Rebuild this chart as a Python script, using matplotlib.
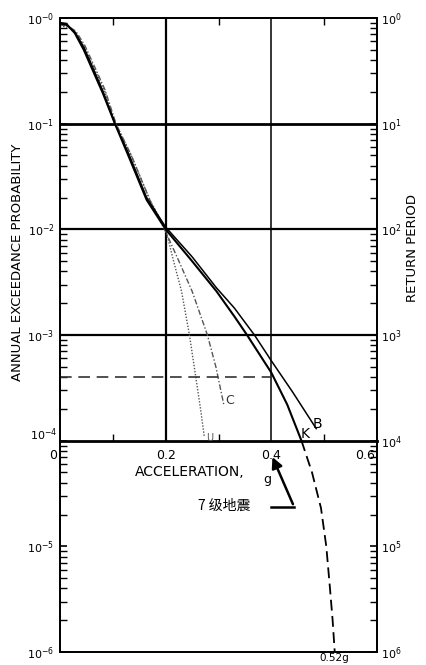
import numpy as np
import matplotlib
matplotlib.use("Agg")
import matplotlib.pyplot as plt
from matplotlib.ticker import FixedLocator, NullFormatter

plt.rcParams['font.family'] = ['DejaVu Sans', 'Noto Sans CJK SC']

# curve K (solid) and its dashed extension
k_g = [0, 0.012, 0.028, 0.045, 0.062, 0.081, 0.104, 0.13, 0.164, 0.2, 0.25, 0.296, 0.33, 0.354, 0.4, 0.43, 0.457]
k_p = [0.9, 0.88, 0.72, 0.5, 0.32, 0.195, 0.1, 0.049, 0.019, 0.01, 0.005, 0.0026, 0.0015, 0.001, 0.00044, 0.00022, 0.0001]
k_ext_g = [0.457, 0.477, 0.494, 0.504, 0.511, 0.516, 0.52]
k_ext_p = [1e-4, 5e-5, 2.3e-5, 1e-5, 4e-6, 2e-6, 1e-6]

# curve B (solid)
b_g = [0, 0.012, 0.028, 0.045, 0.062, 0.081, 0.104, 0.13, 0.164, 0.2, 0.25, 0.296, 0.33, 0.368, 0.4, 0.44, 0.485]
b_p = [0.88, 0.86, 0.74, 0.53, 0.34, 0.205, 0.1, 0.052, 0.02, 0.0105, 0.0055, 0.0028, 0.0018, 0.001, 0.00057, 0.00029, 0.00013]

# curve C (dash-dot)
c_g = [0, 0.015, 0.03, 0.047, 0.065, 0.085, 0.106, 0.135, 0.17, 0.2, 0.225, 0.25, 0.279, 0.295, 0.31]
c_p = [0.86, 0.84, 0.75, 0.55, 0.35, 0.21, 0.1, 0.05, 0.019, 0.0095, 0.005, 0.0026, 0.001, 0.0005, 0.00022]

# curve U (dotted)
u_g = [0, 0.015, 0.03, 0.047, 0.065, 0.085, 0.105, 0.135, 0.17, 0.2, 0.215, 0.23, 0.245, 0.257, 0.266, 0.273]
u_p = [0.84, 0.82, 0.72, 0.52, 0.33, 0.2, 0.1, 0.05, 0.019, 0.01, 0.005, 0.0026, 0.001, 0.0004, 0.0002, 0.00011]

ref_p = 4e-4      # dashed level
ref_g = 0.4
label_0p52 = 0.52

left_labels = [r"$10^{-0}$", r"$10^{-1}$", r"$10^{-2}$", r"$10^{-3}$", "", r"$10^{-5}$", r"$10^{-6}$"]
right_labels = [r"$10^{0}$", r"$10^{1}$", r"$10^{2}$", r"$10^{3}$", r"$10^{4}$", r"$10^{5}$", r"$10^{6}$"]
decades = [1, 1e-1, 1e-2, 1e-3, 1e-4, 1e-5, 1e-6]
x_labels = ["0", "0.2", "0.4", "0.6"]
x_label_pos = [-0.013, 0.2, 0.4, 0.577]

fig = plt.figure(figsize=(4.26, 6.65), dpi=100)
ax = fig.add_axes([60/426, 1 - 652/665, 317/426, 634/665])
ax.set_yscale('log')
ax.set_xlim(0, 0.6)
ax.set_ylim(1e-6, 1)

for s in ax.spines.values():
    s.set_linewidth(1.3)

# grid inside upper part
for yv, lw in [(1e-1, 2.0), (1e-2, 1.6), (1e-3, 1.6)]:
    ax.axhline(yv, color='black', lw=lw)
ax.vlines(0.2, 1e-4, 1, color='black', lw=1.6)
ax.vlines(0.4, 1e-4, 1, color='black', lw=1.1)

# curves
ax.plot(u_g, u_p, color='#555555', lw=1.0, ls=(0, (1, 1.2)))
ax.plot(c_g, c_p, color='#555555', lw=1.0, ls=(0, (4, 1.5, 1, 1.5)))
ax.plot(b_g, b_p, color='black', lw=1.1)
ax.plot(k_g, k_p, color='black', lw=1.5)
ax.plot(k_ext_g, k_ext_p, color='black', lw=1.3, ls=(0, (6, 3)))
ax.plot([0, ref_g], [ref_p, ref_p], color='#333333', lw=1.2, ls=(0, (7, 4)))

ax.text(0.312, 2.4e-4, "C", fontsize=9, color='#333333', va='center')
ax.text(0.478, 1.45e-4, "B", fontsize=10, va='center')
ax.text(0.455, 1.15e-4, "K", fontsize=10, va='center')
ax.text(0.276, 1.05e-4, "U", fontsize=7, color='#555555', va='center')

# axis ticks
ax.yaxis.set_major_locator(FixedLocator(decades))
ax.set_yticklabels(left_labels, fontsize=8)
ax.yaxis.set_minor_locator(FixedLocator([m * 10.0**e for e in range(-6, 0) for m in range(2, 10)]))
ax.yaxis.set_minor_formatter(NullFormatter())
ax.tick_params(axis='y', which='major', direction='in', length=5, width=1.2, left=True, right=False, pad=4)
ax.tick_params(axis='y', which='minor', direction='in', length=5, width=1.0, left=True, right=False)
fig.text(44/426, 1 - 435/665, r"$10^{-4}$", fontsize=8, ha='center', va='center')

ax.xaxis.set_ticks_position('top')
ax.set_xticks([])
ax.xaxis.set_minor_locator(FixedLocator([0.1, 0.3, 0.5]))
ax.tick_params(axis='x', which='minor', direction='in', length=5, width=1.0, top=True, bottom=False)

ax2 = ax.twinx()
ax2.set_yscale('log')
ax2.set_ylim(1e-6, 1)
ax2.yaxis.set_major_locator(FixedLocator(decades))
ax2.set_yticklabels(right_labels, fontsize=8)
ax2.yaxis.set_minor_locator(FixedLocator([m * 10.0**e for e in range(-6, 0) for m in range(2, 10)]))
ax2.yaxis.set_minor_formatter(NullFormatter())
ax2.tick_params(axis='y', which='major', direction='in', length=5, width=1.2, pad=3)
ax2.tick_params(axis='y', which='minor', direction='in', length=5, width=1.0)
for s in ax2.spines.values():
    s.set_linewidth(1.3)

# acceleration axis drawn at 1e-4
sec = ax.secondary_xaxis(2 / 6)
sec.spines['bottom'].set_linewidth(2.0)
sec.set_xticks([0, 0.2, 0.4, 0.6])
sec.set_xticklabels([])
sec.xaxis.set_minor_locator(FixedLocator([0.1, 0.3, 0.5]))
sec.tick_params(which='major', length=0)
sec.tick_params(which='minor', direction='in', length=5, width=1.0)
for lab, xp in zip(x_labels, x_label_pos):
    ax.text(xp, 7.3e-5, lab, fontsize=9, ha='center', va='center')

ax.text(0.1415, 5.1e-5, "ACCELERATION,", fontsize=10, ha='left', va='center')
ax.text(0.385, 4.3e-5, "g", fontsize=9, ha='left', va='center')

# M7 earthquake annotation
ax.text(0.262, 2.4e-5, "7 级地震", fontsize=10, ha='left', va='center',
        family=['Noto Sans CJK SC', 'DejaVu Sans'])
ax.plot([0.4, 0.443], [2.37e-5, 2.37e-5], color='black', lw=1.8)
ax.annotate("", xy=(0.4, 7.4e-5), xytext=(0.443, 2.37e-5),
            arrowprops=dict(arrowstyle='-|>', color='black', lw=1.8, mutation_scale=16))

ax.annotate("0.52g", xy=(label_0p52, 1e-6), xytext=(0, -0.5), textcoords='offset points',
            fontsize=7.5, ha='center', va='top')

fig.text(18/426, 1 - 262/665, "ANNUAL EXCEEDANCE PROBABILITY", rotation=90,
         fontsize=9.5, ha='center', va='center')
fig.text(413/426, 1 - 248/665, "RETURN PERIOD", rotation=90,
         fontsize=9.5, ha='center', va='center')

fig.savefig("out.png", dpi=100)
